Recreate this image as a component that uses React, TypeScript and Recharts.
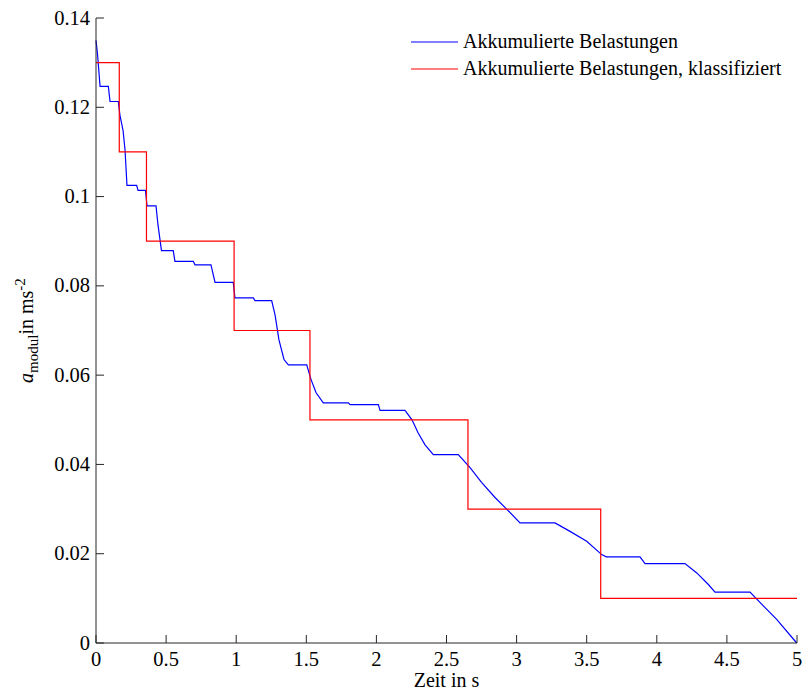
import { LineChart, Line, XAxis, YAxis } from 'recharts';

// accumulated load curve (time in s, a_modul in ms^-2)
const loadTime = [
    0, 0.01, 0.029, 0.088, 0.1, 0.159, 0.171, 0.193, 0.207, 0.221, 0.29, 0.3, 0.353, 0.364, 0.428,
    0.442, 0.467, 0.551, 0.563, 0.694, 0.706, 0.82, 0.849, 0.979, 0.991, 1.122, 1.134, 1.253, 1.277,
    1.305, 1.341, 1.372, 1.503, 1.534, 1.569, 1.621, 1.8, 1.812, 2.014, 2.026, 2.204, 2.254, 2.297,
    2.347, 2.406, 2.584, 2.668, 2.75, 2.846, 2.929, 3.024, 3.274, 3.381, 3.5, 3.607, 3.64, 3.88,
    3.916, 4.201, 4.285, 4.368, 4.415, 4.665, 4.76, 4.855, 4.998,
];
const loadValue = [
    0.135, 0.1322, 0.1247, 0.1247, 0.1213, 0.1213, 0.1182, 0.1148, 0.1105, 0.1025, 0.1025, 0.1014,
    0.1014, 0.0979, 0.0979, 0.0937, 0.0879, 0.0879, 0.0855, 0.0855, 0.0847, 0.0847, 0.0808, 0.0808,
    0.0773, 0.0773, 0.0767, 0.0767, 0.0735, 0.0679, 0.0635, 0.0623, 0.0623, 0.059, 0.0561, 0.0538,
    0.0538, 0.0534, 0.0534, 0.0521, 0.0521, 0.05, 0.0471, 0.0444, 0.0422, 0.0422, 0.0393, 0.036,
    0.0326, 0.03, 0.0269, 0.0269, 0.025, 0.0228, 0.0198, 0.0193, 0.0193, 0.0178, 0.0178, 0.0157,
    0.0131, 0.0114, 0.0114, 0.0083, 0.0053, 0,
];

// classified levels (step after each breakpoint)
const classTime = [0, 0.166, 0.36, 0.985, 1.526, 2.653, 3.6, 5];
const classValue = [0.13, 0.11, 0.09, 0.07, 0.05, 0.03, 0.01, 0.01];

const xTicks = [0, 0.5, 1, 1.5, 2, 2.5, 3, 3.5, 4, 4.5, 5];
const yTicks = [0, 0.02, 0.04, 0.06, 0.08, 0.1, 0.12, 0.14];

const seriesNames = ['Akkumulierte Belastungen', 'Akkumulierte Belastungen, klassifiziert'];
const seriesColors = ['#0000ff', '#ff0000'];

const loadData = loadTime.map((t, i) => ({ t, v: loadValue[i] }));
const classData = classTime.map((t, i) => ({ t, v: classValue[i] }));

const FONT = '"Liberation Serif", "Times New Roman", serif';
const AXIS = '#262626';
const TICK_SIZE = 20.5;
const fmt = (v: number) => String(Number(v.toFixed(2)));

const YTick = (props: any) => {
    const { x, y, payload } = props;
    const ax = x + 6;
    return (
        <g>
            <line x1={ax} x2={ax + 8} y1={y} y2={y} stroke={AXIS} strokeWidth={1} />
            <text x={x} y={y} dy={6.5} textAnchor="end" fontSize={TICK_SIZE} fontFamily={FONT} fill="#000">
                {fmt(payload.value)}
            </text>
        </g>
    );
};

const XTick = (props: any) => {
    const { x, y, payload } = props;
    return (
        <g>
            <line x1={x} x2={x} y1={y} y2={y - 8} stroke={AXIS} strokeWidth={1} />
            <text x={x} y={y} dy={23} textAnchor="middle" fontSize={TICK_SIZE} fontFamily={FONT} fill="#000">
                {fmt(payload.value)}
            </text>
        </g>
    );
};

const YLabel = (props: any) => {
    const { viewBox } = props;
    const cx = viewBox.x + 13;
    const cy = viewBox.y + viewBox.height / 2;
    return (
        <text
            x={cx}
            y={cy}
            transform={`rotate(-90, ${cx}, ${cy})`}
            textAnchor="middle"
            fontFamily={FONT}
            fontSize={20}
            fill="#000"
        >
            <tspan fontStyle="italic">a</tspan>
            <tspan fontSize={15} dy={5}>modul</tspan>
            <tspan dy={-5}>in ms</tspan>
            <tspan fontSize={15} dy={-8}>-2</tspan>
        </text>
    );
};

const XLabel = (props: any) => {
    const { viewBox } = props;
    return (
        <text
            x={viewBox.x + viewBox.width / 2}
            y={viewBox.y + 44}
            textAnchor="middle"
            fontFamily={FONT}
            fontSize={20}
            fill="#000"
        >
            Zeit in s
        </text>
    );
};

// legend drawn as an overlay in the upper right of the plot
const LegendBox = () => (
    <div style={{ position: 'absolute', left: 411, top: 28, fontFamily: FONT, fontSize: 20, color: '#000' }}>
        {seriesNames.map((name, i) => (
            <div key={name} style={{ display: 'flex', alignItems: 'center', height: 27, whiteSpace: 'nowrap' }}>
                <svg width={47} height={4} style={{ marginRight: 5 }}>
                    <line x1={0} x2={47} y1={2} y2={2} stroke={seriesColors[i]} strokeWidth={1.2} />
                </svg>
                <span>{name}</span>
            </div>
        ))}
    </div>
);

export default function App() {
    return (
        <div style={{ position: 'absolute', left: 0, top: 0, width: 802, height: 691, background: '#fff' }}>
            <LineChart width={802} height={691} margin={{ top: 18, right: 5, bottom: 0, left: 20 }}>
                <XAxis
                    type="number"
                    dataKey="t"
                    domain={[0, 5]}
                    ticks={xTicks}
                    interval={0}
                    tickSize={0}
                    tickMargin={0}
                    tick={XTick}
                    height={48}
                    axisLine={{ stroke: AXIS }}
                    label={<XLabel />}
                />
                <YAxis
                    type="number"
                    dataKey="v"
                    domain={[0, 0.14]}
                    ticks={yTicks}
                    interval={0}
                    tickSize={0}
                    tickMargin={6}
                    tick={YTick}
                    width={76}
                    axisLine={{ stroke: AXIS }}
                    label={<YLabel />}
                />
                <Line
                    data={loadData}
                    dataKey="v"
                    name={seriesNames[0]}
                    type="linear"
                    stroke={seriesColors[0]}
                    strokeWidth={1.2}
                    dot={false}
                    activeDot={false}
                    isAnimationActive={false}
                />
                <Line
                    data={classData}
                    dataKey="v"
                    name={seriesNames[1]}
                    type="stepAfter"
                    stroke={seriesColors[1]}
                    strokeWidth={1.2}
                    dot={false}
                    activeDot={false}
                    isAnimationActive={false}
                />
            </LineChart>
            <LegendBox />
        </div>
    );
}
